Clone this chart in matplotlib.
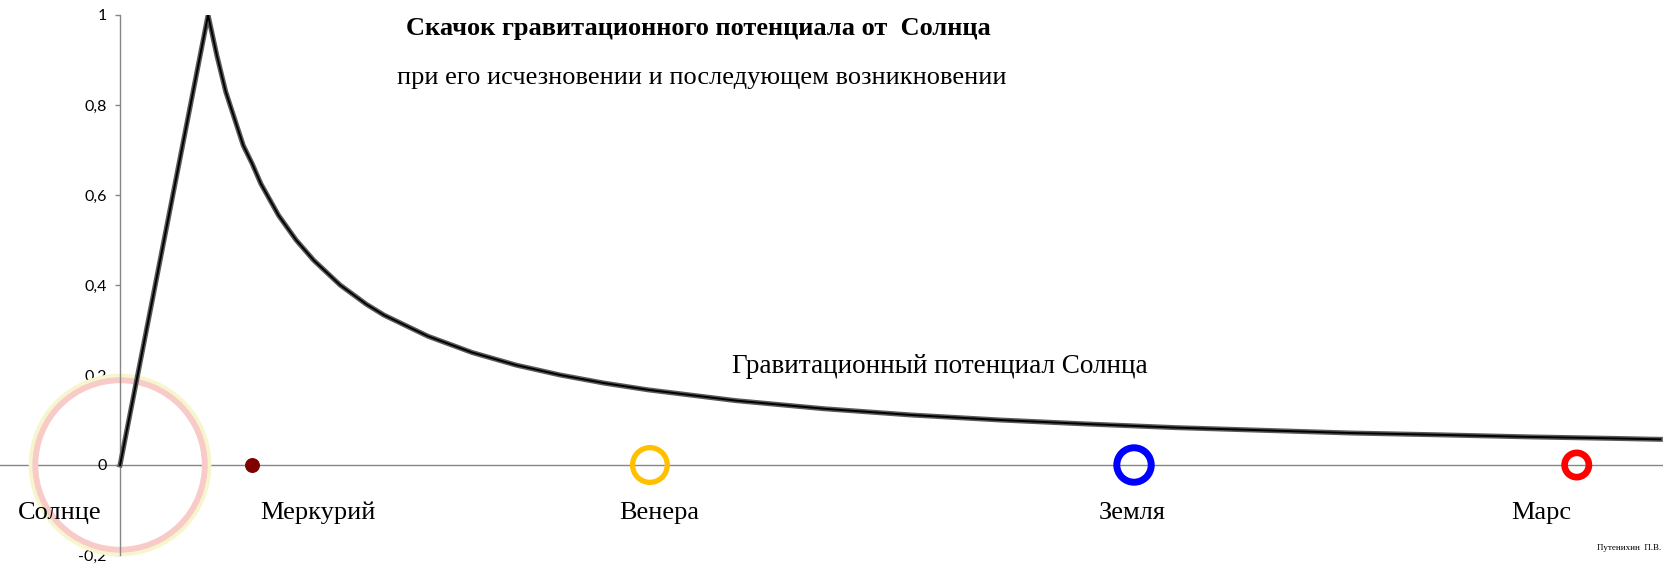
import matplotlib
matplotlib.use("Agg")
import matplotlib.pyplot as plt

# distance from the Sun (unit = distance of the peak) and potential values
pot_x = [0, 1, 1.1, 1.2, 1.3, 1.4, 1.5, 1.6, 1.8, 2.0, 2.2, 2.5, 2.8, 3.0, 3.5, 4.0,
         4.5, 5.0, 5.5, 6.0, 7.0, 8.0, 9.0, 10.0, 11.0, 12.0, 13.0, 14.0, 15.0, 16.0,
         17.0, 17.5]
pot_y = [0, 1, 0.91, 0.83, 0.77, 0.71, 0.67, 0.625, 0.555, 0.5, 0.455, 0.40, 0.357,
         0.333, 0.286, 0.25, 0.222, 0.2, 0.182, 0.167, 0.143, 0.125, 0.111, 0.1, 0.091,
         0.083, 0.077, 0.071, 0.067, 0.0625, 0.059, 0.057]

planets = ["Солнце", "Меркурий", "Венера", "Земля", "Марс"]
planet_x = [0, 1.5, 6.02, 11.52, 16.55]
label_x = [-0.69, 2.25, 6.12, 11.5, 16.15]

yticks = [-0.2, 0, 0.2, 0.4, 0.6, 0.8, 1.0]
ytick_labels = ["-0,2", "0", "0,2", "0,4", "0,6", "0,8", "1"]

serif = "Liberation Serif"

fig = plt.figure(figsize=(16.73, 5.63), dpi=100)
ax = fig.add_axes([0, 8 / 563, 1663 / 1673, 540 / 563])
ax.set_xlim(-1.364, 17.53)
ax.set_ylim(-0.2, 1.0)

for s in ["top", "right", "bottom"]:
    ax.spines[s].set_visible(False)
ax.spines["left"].set_position(("data", 0))
ax.spines["left"].set_color("#868686")
ax.spines["left"].set_linewidth(1)
ax.axhline(0, color="#868686", lw=1, zorder=1)

ax.set_xticks([])
ax.set_yticks(yticks)
ax.set_yticklabels(ytick_labels, fontfamily="Lato", fontsize=11.5)
ax.tick_params(axis="y", direction="out", length=3.6, width=1, color="#868686", pad=6)

# Sun: pale halo ring
ax.scatter([planet_x[0]], [0], s=128 ** 2, facecolors="none", edgecolors="#f7f5cc",
           linewidths=3.5, clip_on=False, zorder=2)
ax.scatter([planet_x[0]], [0], s=122 ** 2, facecolors="none", edgecolors="#f8cbc8",
           linewidths=4.2, clip_on=False, zorder=2)

# planets
ax.scatter([planet_x[1]], [0], s=95, color="#800000", edgecolors="#800000", zorder=3)
ax.scatter([planet_x[2]], [0], s=25 ** 2, facecolors="none", edgecolors="#ffc000",
           linewidths=3.8, zorder=3)
ax.scatter([planet_x[3]], [0], s=24.8 ** 2, facecolors="none", edgecolors="#0000ff",
           linewidths=5, zorder=3)
ax.scatter([planet_x[4]], [0], s=17.5 ** 2, facecolors="none", edgecolors="#ff0000",
           linewidths=4.8, zorder=3)

# potential curve (grey halo + black core)
ax.plot(pot_x, pot_y, color="#5a5a5a", lw=3.6, solid_joinstyle="round", zorder=4)
ax.plot(pot_x, pot_y, color="black", lw=1.4, solid_joinstyle="round", zorder=5)

for name, lx in zip(planets, label_x):
    ax.text(lx, -0.107, name, fontfamily=serif, fontsize=19, ha="center", va="center")

ax.text(6.57, 0.969, "Скачок гравитационного потенциала от  Солнца", fontfamily=serif,
        fontsize=19, fontweight="bold", ha="center", va="center")
ax.text(6.61, 0.86, "при его исчезновении и последующем возникновении", fontfamily=serif,
        fontsize=19, ha="center", va="center")
ax.text(9.31, 0.218, "Гравитационный потенциал Солнца", fontfamily=serif, fontsize=19.5,
        ha="center", va="center")
ax.text(17.14, -0.184, "Путенихин  П.В.", fontfamily=serif, fontsize=6.5,
        ha="center", va="center")

fig.savefig("out.png", dpi=100)
